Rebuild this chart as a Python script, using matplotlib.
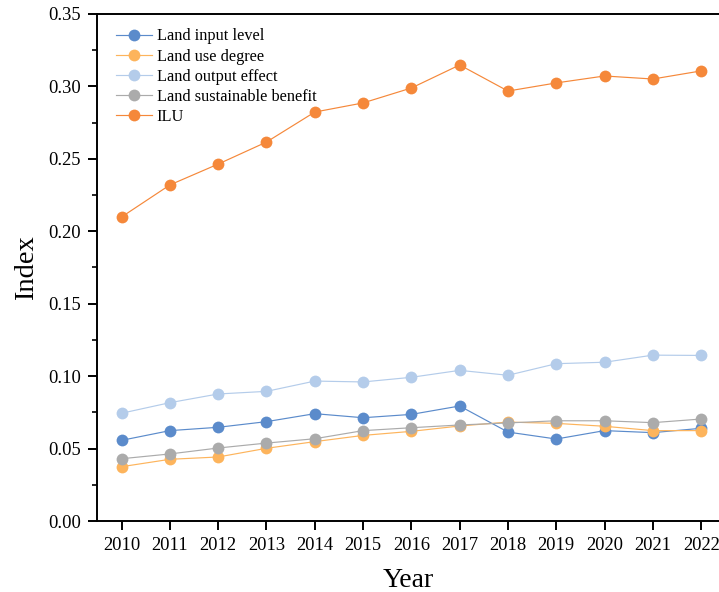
import matplotlib.pyplot as plt
from matplotlib.ticker import MultipleLocator

plt.rcParams['font.family'] = ['Liberation Serif', 'DejaVu Serif']

years = [2010, 2011, 2012, 2013, 2014, 2015, 2016, 2017, 2018, 2019, 2020, 2021, 2022]

land_input = [0.0557, 0.0624, 0.0647, 0.0686, 0.0741, 0.0713, 0.0736, 0.0794,
              0.0614, 0.0566, 0.0624, 0.0610, 0.0640]
land_use = [0.0375, 0.0426, 0.0442, 0.0502, 0.0548, 0.0591, 0.0619, 0.0656,
            0.0683, 0.0674, 0.0654, 0.0624, 0.0624]
land_output = [0.0744, 0.0817, 0.0877, 0.0895, 0.0966, 0.0960, 0.0992, 0.1040,
               0.1006, 0.1086, 0.1096, 0.1145, 0.1143]
land_sustain = [0.0430, 0.0463, 0.0504, 0.0538, 0.0568, 0.0624, 0.0644, 0.0663,
                0.0677, 0.0692, 0.0692, 0.0679, 0.0704]
ilu = [0.2099, 0.2320, 0.2464, 0.2616, 0.2823, 0.2886, 0.2989, 0.3148,
       0.2968, 0.3024, 0.3072, 0.3051, 0.3107]

series = [
    (land_input, '#5B8BCB', 'Land input level'),
    (land_use, '#FDB45C', 'Land use degree'),
    (land_output, '#B4CCEA', 'Land output effect'),
    (land_sustain, '#ABABAB', 'Land sustainable benefit'),
    (ilu, '#F5883A', 'ILU'),
]

fig = plt.figure(figsize=(7.19, 5.92), dpi=100)
ax = fig.add_axes([0.1349, 0.1199, 0.8651, 0.8565])

for vals, col, name in series:
    ax.plot(years, vals, color=col, lw=0.85, marker='o', ms=8.5,
            markeredgewidth=0, label=name)

ax.set_xlim(2009.49, 2022.37)
ax.set_ylim(0, 0.35)
ax.set_xticks(years)
ax.yaxis.set_major_locator(MultipleLocator(0.05))
ax.yaxis.set_minor_locator(MultipleLocator(0.025))
ax.yaxis.set_major_formatter(plt.FuncFormatter(lambda v, p: f'{v:.2f}'))

ax.spines['right'].set_visible(False)
for s in ['left', 'top', 'bottom']:
    ax.spines[s].set_linewidth(1.4)
ax.tick_params(axis='both', which='major', direction='out', length=6.7, width=1.4,
               labelsize=13.3, pad=5)
ax.tick_params(axis='y', which='minor', direction='out', length=3.6, width=1.2)

ax.set_xlabel('Year', fontsize=20, labelpad=10)
ax.set_ylabel('Index', fontsize=20.5, labelpad=6.5)

ax.legend(loc='upper left', frameon=False, fontsize=11.7, handlelength=2.2,
          handletextpad=0.3, labelspacing=0.25, borderaxespad=0.4,
          bbox_to_anchor=(0.01, 0.997))

fig.savefig('out.png', dpi=100)
